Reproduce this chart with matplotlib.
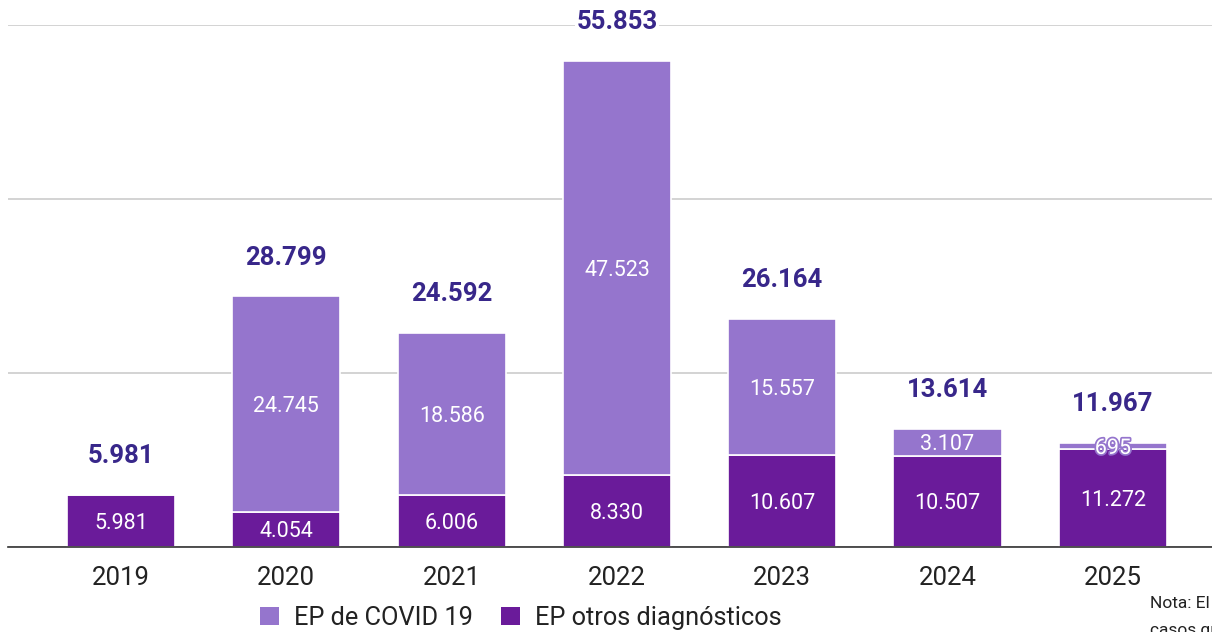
import matplotlib
matplotlib.use("Agg")
import matplotlib.pyplot as plt
from matplotlib.patches import Patch
import matplotlib.patheffects as pe

plt.rcParams['font.family'] = ['Roboto', 'DejaVu Sans']

years = ['2019', '2020', '2021', '2022', '2023', '2024', '2025']
otros = [5981, 4054, 6006, 8330, 10607, 10507, 11272]
covid = [0, 24745, 18586, 47523, 15557, 3107, 695]
totals = [5981, 28799, 24592, 55853, 26164, 13614, 11967]
yticks = [0, 20000, 40000, 60000]

c_light = '#9575CD'
c_dark = '#6A1B9A'
c_total = '#38278A'

def fmt(v):
    return f"{v:,}".replace(',', '.')

W, H = 1212, 632
fig = plt.figure(figsize=(W / 100, H / 100), dpi=100)
ax = fig.add_axes([8 / W, (H - 547) / H, (W - 8) / W, (547 - 25) / H])
ax.set_xlim(-0.684, 6.6)
ax.set_ylim(0, 60000)

x = list(range(len(years)))
bw = 0.655
ax.bar(x, otros, width=bw, color=c_dark, edgecolor='white', linewidth=1.2, zorder=3)
ax.bar(x, covid, width=bw, bottom=otros, color=c_light, edgecolor='white', linewidth=1.2, zorder=3)

for i in x:
    ax.text(i, otros[i] / 2, fmt(otros[i]), ha='center', va='center_baseline', color='white',
            fontsize=15.5, zorder=5)
    if covid[i] > 0:
        t = ax.text(i, otros[i] + covid[i] / 2, fmt(covid[i]), ha='center', va='center_baseline',
                    color='white', fontsize=15.5, zorder=5)
        if covid[i] < 1500:
            t.set_path_effects([pe.withStroke(linewidth=2.5, foreground=c_light)])
    ax.annotate(fmt(totals[i]), (i, totals[i]), xytext=(0, 28), textcoords='offset points',
                ha='center', va='center', color=c_total, fontsize=18.5, fontweight='bold',
                zorder=6, annotation_clip=False,
                bbox=dict(facecolor='white', edgecolor='none', pad=1))

ax.set_yticks(yticks)
ax.yaxis.grid(True, color='#cccccc', linewidth=1.2, zorder=0)
ax.set_axisbelow(True)
ax.tick_params(axis='y', left=False, labelleft=False)
ax.tick_params(axis='x', length=0, pad=14, labelsize=18.5, labelcolor='#222222')
ax.set_xticks(x)
ax.set_xticklabels(years)
for s in ['top', 'right', 'left']:
    ax.spines[s].set_visible(False)
ax.spines['bottom'].set_color('#333333')
ax.spines['bottom'].set_linewidth(1.2)
ax.spines['bottom'].set_zorder(4)

handles = [Patch(facecolor=c_light, edgecolor='none', label='EP de COVID 19'),
           Patch(facecolor=c_dark, edgecolor='none', label='EP otros diagnósticos')]
fig.legend(handles=handles, loc='center', bbox_to_anchor=(521 / W, 1 - 618 / H), ncol=2,
           frameon=False, fontsize=18.3, handlelength=0.75, handleheight=0.75,
           handletextpad=0.6, columnspacing=1.1, labelcolor='#222222', borderpad=0)

fig.text(1150 / W, 1 - 603 / H, 'Nota: El', fontsize=12.5, color='#222222', va='center', ha='left')
fig.text(1150 / W, 1 - 630 / H, 'casos que', fontsize=12.5, color='#222222', va='center', ha='left')

fig.savefig('out.png', dpi=100)
